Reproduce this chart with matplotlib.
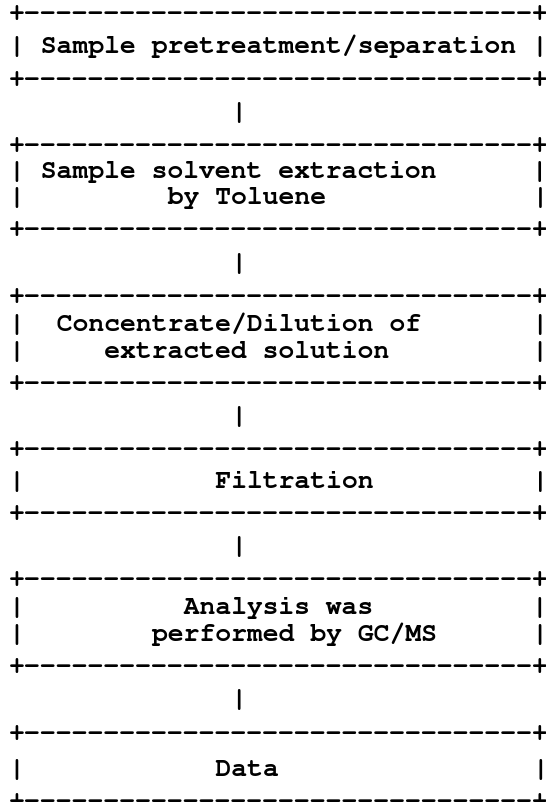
import matplotlib
matplotlib.use("Agg")
import matplotlib.pyplot as plt
from matplotlib import font_manager

# flowchart steps, drawn as ascii boxes (padding as in the original)
border = "+--------------------------------+"
link = "              |"
steps = [
    ["| Sample pretreatment/separation |"],
    ["| Sample solvent extraction      |",
     "|         by Toluene             |"],
    ["|  Concentrate/Dilution of       |",
     "|     extracted solution         |"],
    ["|            Filtration          |"],
    ["|          Analysis was          |",
     "|        performed by GC/MS      |"],
    ["|            Data                |"],
]

lines = []
for i, s in enumerate(steps):
    lines.append(border)
    lines.extend(s)
    lines.append(border)
    if i < len(steps) - 1:
        lines.append(link)

# vertical centre of each text row, in pixels from the top
rows_y = [12, 45, 78, 111, 144, 170, 196, 228, 262, 295, 323, 350, 382,
          415, 448, 480, 512, 545, 578, 606, 633, 665, 698, 732, 768, 800]

# courier-like font if there is one
names = {f.name for f in font_manager.fontManager.ttflist}
fam = "Liberation Mono"
for n in ["Courier New", "Nimbus Mono PS", "Nimbus Mono L", "FreeMono", "Courier"]:
    if n in names:
        fam = n
        break

W, H = 546, 802
fig = plt.figure(figsize=(W / 100, H / 100), dpi=100)
fig.patch.set_facecolor("white")

fs = 19.0
for txt, y in zip(lines, rows_y):
    fig.text(9 / W, 1 - (y + 8) / H, txt, ha="left", va="baseline",
             family=fam, weight="bold", fontsize=fs, color="black")

fig.savefig("out.png", dpi=100)
